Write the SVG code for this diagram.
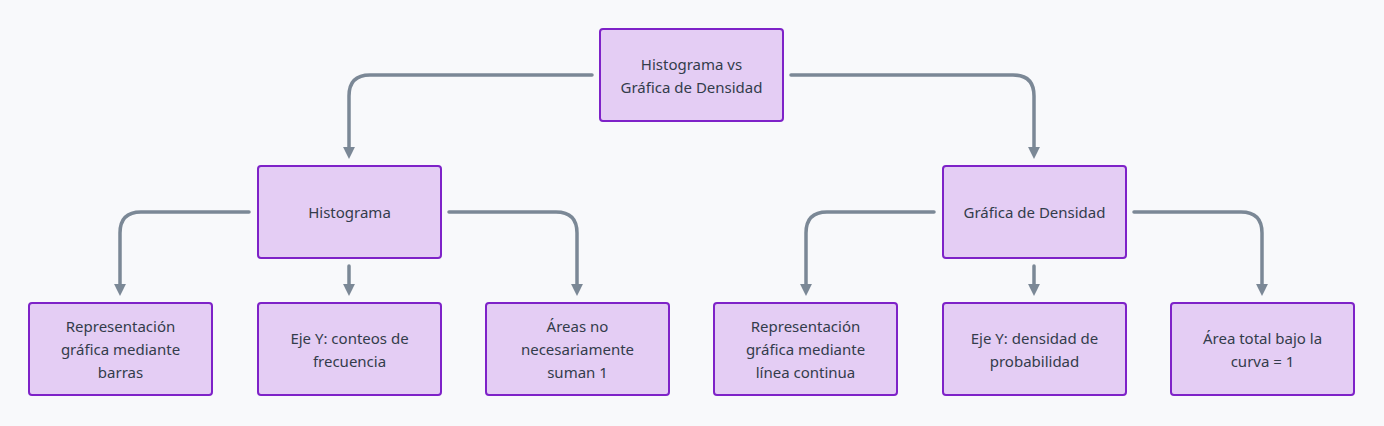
<svg xmlns="http://www.w3.org/2000/svg" width="1384" height="426" viewBox="0 0 1384 426">
<style>
.n{fill:#e4cdf4;stroke:#7e22c8;stroke-width:2}
.t{font-family:"Noto Sans","DejaVu Sans",sans-serif;font-size:15px;fill:#333c4b;text-anchor:middle;dominant-baseline:central}
.c{fill:none;stroke:#7b8896;stroke-width:3.5;stroke-linecap:round}
</style>
<defs>
<marker id="a" viewBox="0 0 10 10" refX="5" refY="5" markerWidth="3.4" markerHeight="3.4" orient="auto" markerUnits="strokeWidth">
<path d="M0,0 L10,5 L0,10 z" fill="#7b8896"/>
</marker>
</defs>
<rect width="1384" height="426" fill="#f8f9fb"/>
<g id="connectors">
<path class="c" d="M592,75 H370 Q349,75 349,96 V153" marker-end="url(#a)"/>
<path class="c" d="M791,75 H1013 Q1034,75 1034,96 V153" marker-end="url(#a)"/>
<path class="c" d="M249,212 H141 Q120,212 120,233 V290" marker-end="url(#a)"/>
<path class="c" d="M349,266 V290" marker-end="url(#a)"/>
<path class="c" d="M449,212 H556 Q577,212 577,233 V290" marker-end="url(#a)"/>
<path class="c" d="M934,212 H827 Q806,212 806,233 V290" marker-end="url(#a)"/>
<path class="c" d="M1034,266 V290" marker-end="url(#a)"/>
<path class="c" d="M1134,212 H1241 Q1262,212 1262,233 V290" marker-end="url(#a)"/>
</g>
<g id="root"><rect class="n" x="600" y="29" width="183" height="92" rx="3"/><text class="t" x="691.5" y="64">Histograma vs</text><text class="t" x="691.5" y="87">Gráfica de Densidad</text></g>
<g id="histograma"><rect class="n" x="258" y="166" width="183" height="92" rx="3"/><text class="t" x="349.5" y="212">Histograma</text></g>
<g id="densidad"><rect class="n" x="943" y="166" width="183" height="92" rx="3"/><text class="t" x="1034.5" y="212">Gráfica de Densidad</text></g>
<g id="h1"><rect class="n" x="29" y="303" width="183" height="92" rx="3"/><text class="t" x="120.5" y="326">Representación</text><text class="t" x="120.5" y="349">gráfica mediante</text><text class="t" x="120.5" y="372">barras</text></g>
<g id="h2"><rect class="n" x="258" y="303" width="183" height="92" rx="3"/><text class="t" x="349.5" y="338">Eje Y: conteos de</text><text class="t" x="349.5" y="361">frecuencia</text></g>
<g id="h3"><rect class="n" x="486" y="303" width="183" height="92" rx="3"/><text class="t" x="577.5" y="326">Áreas no</text><text class="t" x="577.5" y="349">necesariamente</text><text class="t" x="577.5" y="372">suman 1</text></g>
<g id="d1"><rect class="n" x="714" y="303" width="183" height="92" rx="3"/><text class="t" x="805.5" y="326">Representación</text><text class="t" x="805.5" y="349">gráfica mediante</text><text class="t" x="805.5" y="372">línea continua</text></g>
<g id="d2"><rect class="n" x="943" y="303" width="183" height="92" rx="3"/><text class="t" x="1034.5" y="338">Eje Y: densidad de</text><text class="t" x="1034.5" y="361">probabilidad</text></g>
<g id="d3"><rect class="n" x="1171" y="303" width="183" height="92" rx="3"/><text class="t" x="1262.5" y="338">Área total bajo la</text><text class="t" x="1262.5" y="361">curva = 1</text></g>
</svg>
